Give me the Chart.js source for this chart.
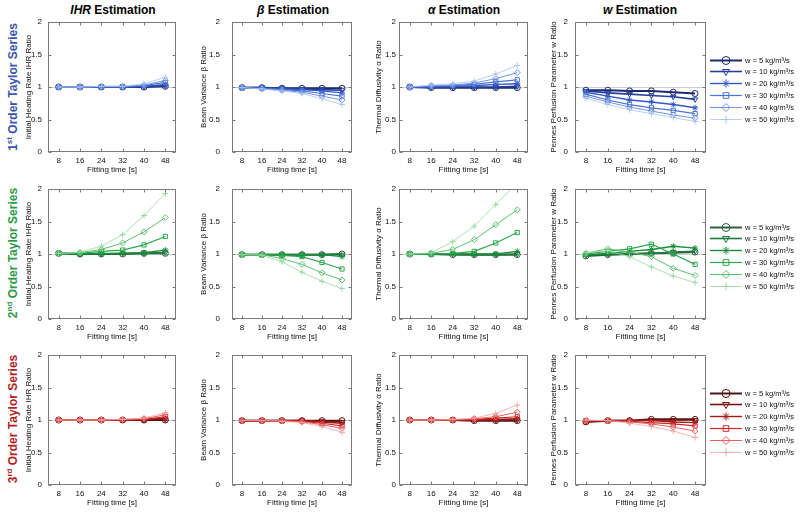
<!DOCTYPE html>
<html>
<head>
<meta charset="utf-8">
<script src="https://cdn.jsdelivr.net/npm/chart.js@4.4.1/dist/chart.umd.min.js"></script>
<style>
  body { margin: 0; background: #fff; width: 800px; height: 516px; position: relative; overflow: hidden;
         font-family: "Liberation Sans", Arial, sans-serif; }
  canvas { position: absolute; }
  .ct { position: absolute; top: 3px; width: 160px; margin-left: -80px; text-align: center;
        font-weight: bold; font-size: 12px; color: #000; }
  .rl { position: absolute; left: 12px; font-weight: bold; font-size: 12px; white-space: nowrap;
        transform: translate(-50%, -50%) rotate(-90deg); }
  .rl sup { font-size: 8px; }
  .yt { position: absolute; font-size: 8px; line-height: 10px; height: 10px; margin-top: -5px;
        width: 20px; text-align: right; color: #111; z-index: 2; }
</style>
</head>
<body>

<div class="ct" style="left:113px"><i>IHR</i> Estimation</div>
<div class="ct" style="left:293px"><i>β</i> Estimation</div>
<div class="ct" style="left:464px"><i>α</i> Estimation</div>
<div class="ct" style="left:640px"><i>w</i> Estimation</div>

<div class="rl" style="top:87px;color:#3a55a8">1<sup>st</sup> Order Taylor Series</div>
<div class="rl" style="top:253px;color:#2a9a48">2<sup>nd</sup> Order Taylor Series</div>
<div class="rl" style="top:419px;color:#b01e28">3<sup>rd</sup> Order Taylor Series</div>

<script>
const fittingTimes = ['8', '16', '24', '32', '40', '48'];
const perfusionLabels = ['w = 5 kg/m³/s', 'w = 10 kg/m³/s', 'w = 20 kg/m³/s',
                         'w = 30 kg/m³/s', 'w = 40 kg/m³/s', 'w = 50 kg/m³/s'];
const yTickValues = [0, 0.5, 1, 1.5, 2];
const yTickLabels = ['0', '0.5', '1', '1.5', '2'];

// one series per perfusion rate (5, 10, 20, 30, 40, 50)
const ihrFirst = [
    [1.00, 1.00, 1.00, 1.00, 1.00, 1.01],
    [1.00, 1.00, 1.00, 1.00, 1.01, 1.02],
    [1.00, 1.00, 1.00, 1.00, 1.01, 1.04],
    [1.00, 1.00, 1.00, 1.00, 1.02, 1.07],
    [1.00, 1.00, 1.01, 1.01, 1.03, 1.10],
    [1.00, 1.00, 1.01, 1.01, 1.05, 1.15]];
const betaFirst = [
    [0.99, 0.99, 0.98, 0.98, 0.98, 0.98],
    [0.99, 0.99, 0.98, 0.97, 0.96, 0.95],
    [0.99, 0.98, 0.97, 0.96, 0.94, 0.91],
    [0.99, 0.98, 0.96, 0.94, 0.90, 0.86],
    [0.99, 0.97, 0.95, 0.92, 0.86, 0.80],
    [0.99, 0.97, 0.94, 0.90, 0.82, 0.73]];
const alphaFirst = [
    [1.00, 0.99, 0.99, 0.99, 0.99, 0.99],
    [1.00, 1.00, 1.00, 1.00, 1.00, 1.01],
    [1.00, 1.00, 1.01, 1.02, 1.04, 1.05],
    [1.00, 1.01, 1.02, 1.04, 1.08, 1.11],
    [1.00, 1.02, 1.03, 1.06, 1.13, 1.22],
    [1.00, 1.03, 1.05, 1.09, 1.20, 1.33]];
const wFirst = [
    [0.95, 0.95, 0.94, 0.94, 0.92, 0.90],
    [0.94, 0.91, 0.89, 0.87, 0.85, 0.81],
    [0.92, 0.86, 0.80, 0.77, 0.73, 0.68],
    [0.89, 0.80, 0.73, 0.68, 0.64, 0.59],
    [0.86, 0.77, 0.69, 0.63, 0.57, 0.52],
    [0.83, 0.73, 0.65, 0.59, 0.53, 0.47]];

const ihrSecond = [
    [1.01, 1.00, 1.00, 1.00, 1.01, 1.01],
    [1.01, 1.00, 1.00, 1.01, 1.01, 1.02],
    [1.01, 1.00, 1.01, 1.01, 1.02, 1.06],
    [1.01, 1.01, 1.04, 1.06, 1.14, 1.27],
    [1.01, 1.02, 1.07, 1.17, 1.34, 1.56],
    [1.01, 1.03, 1.12, 1.30, 1.59, 1.93]];
const betaSecond = [
    [0.99, 0.99, 0.99, 0.99, 0.99, 1.00],
    [0.99, 0.99, 0.99, 0.99, 0.99, 0.99],
    [0.99, 0.99, 0.99, 0.99, 0.99, 0.96],
    [0.99, 0.99, 0.98, 0.96, 0.87, 0.77],
    [0.99, 0.99, 0.93, 0.84, 0.71, 0.60],
    [0.99, 0.98, 0.88, 0.72, 0.58, 0.47]];
const alphaSecond = [
    [1.00, 1.00, 0.99, 0.99, 0.99, 0.99],
    [1.00, 1.00, 1.00, 0.99, 0.99, 1.00],
    [1.00, 1.00, 1.00, 1.00, 1.00, 1.04],
    [1.00, 1.00, 1.01, 1.04, 1.17, 1.33],
    [1.00, 1.01, 1.07, 1.22, 1.45, 1.68],
    [1.00, 1.02, 1.19, 1.43, 1.76, 2.10]];
const wSecond = [
    [0.97, 0.99, 1.00, 1.01, 1.02, 1.03],
    [0.98, 0.99, 1.00, 1.01, 1.03, 1.04],
    [0.99, 1.01, 1.04, 1.07, 1.12, 1.09],
    [1.00, 1.04, 1.08, 1.15, 1.00, 0.84],
    [1.01, 1.08, 1.03, 0.96, 0.78, 0.67],
    [1.02, 1.05, 0.96, 0.80, 0.66, 0.56]];

const ihrThird = [
    [1.00, 1.00, 1.00, 1.00, 1.00, 1.00],
    [1.00, 1.00, 1.00, 1.00, 1.00, 1.01],
    [1.00, 1.00, 1.00, 1.00, 1.01, 1.03],
    [1.00, 1.00, 1.00, 1.00, 1.01, 1.05],
    [1.00, 1.00, 1.00, 1.01, 1.02, 1.08],
    [1.00, 1.00, 1.00, 1.01, 1.03, 1.11]];
const betaThird = [
    [0.99, 0.99, 0.99, 0.99, 0.99, 0.99],
    [0.99, 0.99, 0.99, 0.99, 0.98, 0.97],
    [0.99, 0.99, 0.99, 0.99, 0.97, 0.95],
    [0.99, 0.99, 0.99, 0.98, 0.95, 0.91],
    [0.99, 0.99, 0.99, 0.97, 0.93, 0.87],
    [0.99, 0.99, 0.98, 0.96, 0.90, 0.81]];
const alphaThird = [
    [1.00, 1.00, 1.00, 0.99, 0.99, 0.99],
    [1.00, 1.00, 1.00, 1.00, 1.00, 1.00],
    [1.00, 1.00, 1.00, 1.00, 1.01, 1.02],
    [1.00, 1.00, 1.00, 1.01, 1.03, 1.05],
    [1.00, 1.00, 1.00, 1.02, 1.05, 1.12],
    [1.00, 1.00, 1.01, 1.03, 1.10, 1.23]];
const wThird = [
    [0.97, 0.99, 0.99, 1.01, 1.01, 1.01],
    [0.98, 0.99, 0.99, 1.00, 1.00, 1.00],
    [0.98, 0.99, 0.99, 0.99, 0.97, 0.96],
    [0.99, 0.99, 0.98, 0.96, 0.94, 0.91],
    [0.99, 0.99, 0.97, 0.94, 0.89, 0.83],
    [1.00, 0.99, 0.95, 0.90, 0.83, 0.73]];

// styling
const rowColors = [
    ['#1c2a6e', '#26409e', '#3257c2', '#4b72d4', '#6f94e0', '#a8c4f0'],
    ['#2f5e3e', '#1f7a3e', '#178c3a', '#2aa84c', '#5cc070', '#98d9a0'],
    ['#4e1515', '#781414', '#a31818', '#cc2a2a', '#e8605e', '#f4a3a3']];
const markers   = ['circle', 'triangle', 'star', 'rect', 'rectRot', 'cross'];
const rotations = [0, 180, 0, 0, 0, 0];
const lineWidths = [2, 1.6, 1.4, 1.2, 1, 0.8];

const rows = [
    [ihrFirst,  betaFirst,  alphaFirst,  wFirst],
    [ihrSecond, betaSecond, alphaSecond, wSecond],
    [ihrThird,  betaThird,  alphaThird,  wThird]];

// gap = space between tick labels and the plot box
const cols = [
    { left: 48,  right: 178, titleX: 28.5,  gap: 6,  yTitle: 'Initial Heating Rate IHR Ratio' },
    { left: 232, right: 354, titleX: 203.5, gap: 12, yTitle: 'Beam Variance β Ratio' },
    { left: 399, right: 530, titleX: 378.5, gap: 3,  yTitle: 'Thermal Diffusivity α Ratio' },
    { left: 575, right: 706, titleX: 554,   gap: 7,  yTitle: 'Pennes Perfusion Parameter w Ratio' }];
const rowTops = [22, 189, 355];
const plotH = 130, topPad = 8, xAxisH = 23;
const FONT = '"Liberation Sans", Arial, sans-serif';

Chart.defaults.font.family = FONT;
Chart.defaults.font.size = 8;
Chart.defaults.color = '#111';

function drawMarker(ctx, style, rot, r, x, y) {
    if (Chart.helpers && Chart.helpers.drawPoint) {
        Chart.helpers.drawPoint(ctx, { pointStyle: style, rotation: rot, radius: r, borderWidth: 1 }, x, y);
    } else {
        ctx.beginPath(); ctx.arc(x, y, r, 0, Math.PI * 2); ctx.stroke();
    }
}

// matlab-style box, inner ticks, y=1 reference line and the row legend
const boxPlugin = {
    id: 'box',
    beforeDatasetsDraw(chart) {
        const { ctx, chartArea: a, scales: { y } } = chart;
        const y1 = Math.round(y.getPixelForValue(1)) + 0.5;
        ctx.save();
        ctx.strokeStyle = '#cfcfcf';
        ctx.lineWidth = 1;
        ctx.beginPath(); ctx.moveTo(a.left, y1); ctx.lineTo(a.right, y1); ctx.stroke();
        ctx.restore();
    },
    afterDraw(chart, args, opts) {
        const { ctx, chartArea: a, scales: { x, y } } = chart;
        ctx.save();
        ctx.strokeStyle = '#7a7a7a';
        ctx.lineWidth = 1;
        const L = Math.round(a.left) + 0.5, R = Math.round(a.right) - 0.5;
        const T = Math.round(a.top) + 0.5, B = Math.round(a.bottom) - 0.5;
        ctx.strokeRect(L, T, R - L, B - T);
        ctx.beginPath();
        x.ticks.forEach((t, i) => {
            const px = Math.round(x.getPixelForTick(i)) + 0.5;
            ctx.moveTo(px, B); ctx.lineTo(px, B - 3);
            ctx.moveTo(px, T); ctx.lineTo(px, T + 3);
        });
        yTickValues.forEach(v => {
            const py = Math.round(y.getPixelForValue(v)) + 0.5;
            ctx.moveTo(L, py); ctx.lineTo(L + 3, py);
            ctx.moveTo(R, py); ctx.lineTo(R - 3, py);
        });
        ctx.stroke();

        if (opts.legend) {
            ctx.textBaseline = 'middle';
            chart.data.datasets.forEach((ds, i) => {
                const ly = Math.round(a.top + 37.5 + i * 11.8) + 0.5;
                const x0 = a.right + 4, x1 = a.right + 36;
                ctx.strokeStyle = ds.borderColor;
                ctx.fillStyle = 'rgba(0,0,0,0)';
                ctx.lineWidth = ds.borderWidth;
                ctx.beginPath(); ctx.moveTo(x0, ly); ctx.lineTo(x1, ly); ctx.stroke();
                ctx.lineWidth = 1;
                drawMarker(ctx, ds.pointStyle, ds.pointRotation, 4, (x0 + x1) / 2, ly);
                ctx.fillStyle = '#111';
                ctx.font = '7.5px ' + FONT;
                ctx.fillText(ds.label, x1 + 3, ly);
            });
        }
        ctx.restore();
    }
};

rows.forEach((rowData, r) => {
    cols.forEach((col, c) => {
        const canvasLeft = Math.round(col.titleX - 4.8);
        const canvasTop = rowTops[r] - topPad;
        const yW = col.left - canvasLeft;
        const padR = c === 3 ? 800 - col.right : 3;
        const cv = document.createElement('canvas');
        cv.width = col.right - canvasLeft + padR;
        cv.height = topPad + plotH + xAxisH;
        cv.style.left = canvasLeft + 'px';
        cv.style.top = canvasTop + 'px';
        document.body.appendChild(cv);

        const chart = new Chart(cv, {
            type: 'line',
            data: {
                labels: fittingTimes,
                datasets: rowData[c].map((vals, i) => ({
                    label: perfusionLabels[i],
                    data: vals,
                    borderColor: rowColors[r][i],
                    pointBorderColor: rowColors[r][i],
                    pointBackgroundColor: 'rgba(0,0,0,0)',
                    borderWidth: lineWidths[i],
                    pointStyle: markers[i],
                    pointRotation: rotations[i],
                    pointRadius: 3,
                    pointBorderWidth: 1,
                    tension: 0,
                    order: -i
                }))
            },
            plugins: [boxPlugin],
            options: {
                responsive: false,
                animation: false,
                devicePixelRatio: 1,
                layout: { padding: { top: topPad, right: padR, left: 0, bottom: 0 } },
                plugins: {
                    legend: { display: false },
                    tooltip: { enabled: false },
                    box: { legend: c === 3 }
                },
                scales: {
                    x: {
                        offset: true,
                        grid: { display: false, drawTicks: false },
                        border: { display: false },
                        ticks: { padding: 4, maxRotation: 0, autoSkip: false, font: { size: 8 } },
                        title: { display: true, text: 'Fitting time [s]', padding: 0, font: { size: 8 } },
                        afterFit: s => { s.height = xAxisH; }
                    },
                    y: {
                        min: yTickValues[0], max: yTickValues[yTickValues.length - 1],
                        grid: { display: false, drawTicks: false },
                        border: { display: false },
                        ticks: { display: false, stepSize: 0.5 },
                        title: { display: true, text: col.yTitle, padding: 0, font: { size: 8 } },
                        afterFit: s => { s.width = yW; s.paddingTop = 5; s.paddingBottom = 5; }
                    }
                }
            }
        });

        // y tick labels placed from the chart's own y scale
        const ys = chart.scales.y;
        yTickValues.forEach((v, k) => {
            const d = document.createElement('div');
            d.className = 'yt';
            d.textContent = yTickLabels[k];
            d.style.left = (canvasLeft + chart.chartArea.left - col.gap - 20) + 'px';
            d.style.top = (canvasTop + ys.getPixelForValue(v)) + 'px';
            document.body.appendChild(d);
        });
    });
});
</script>
</body>
</html>
